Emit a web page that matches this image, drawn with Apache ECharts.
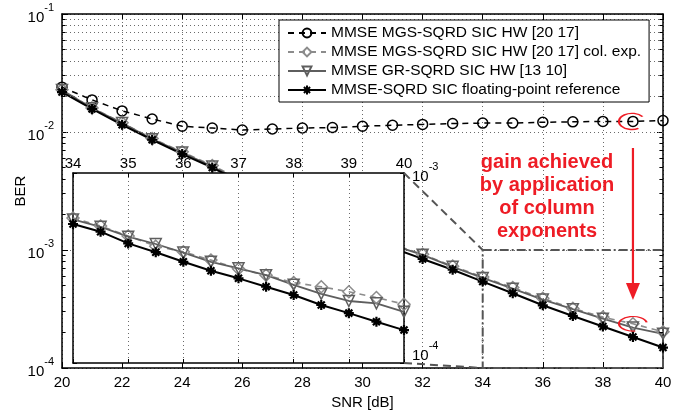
<!DOCTYPE html>
<html>
<head>
<meta charset="utf-8">
<title>BER vs SNR</title>
<script src="https://cdn.jsdelivr.net/npm/echarts@6/dist/echarts.min.js"></script>
<style>
  html, body { margin: 0; padding: 0; background: #fff; }
  #chart { width: 692px; height: 418px; }
</style>
</head>
<body>
<div id="chart"></div>
<script>
// main plot, SNR in dB
const snr = [20, 21, 22, 23, 24, 25, 26, 27, 28, 29, 30, 31, 32, 33, 34, 35, 36, 37, 38, 39, 40];
const berMgs = [0.0240, 0.0187, 0.0151, 0.0129, 0.0112, 0.0108, 0.0104, 0.0106, 0.0108, 0.0109, 0.0112,
  0.0114, 0.0116, 0.0118, 0.0119, 0.0119, 0.0121, 0.0122, 0.0123, 0.0123, 0.0125];
const berMgsColExp = [0.0228, 0.0160, 0.0120, 0.0088, 0.0068, 0.0052, 0.0039, 0.0030, 0.0023, 0.0018, 0.0014,
  0.00112, 0.00092, 0.00073, 0.00059, 0.00048, 0.00039, 0.00032, 0.00027, 0.000237, 0.000203];
const berGr = [0.0227, 0.0159, 0.0119, 0.0087, 0.0067, 0.0051, 0.0038, 0.0029, 0.0022, 0.0017, 0.00135,
  0.0011, 0.00091, 0.00072, 0.00058, 0.00047, 0.00038, 0.000315, 0.000262, 0.00022, 0.000195];
const berFloat = [0.0218, 0.0157, 0.0115, 0.0086, 0.0065, 0.0050, 0.0037, 0.0028, 0.0021, 0.0016, 0.00128,
  0.00104, 0.00084, 0.00068, 0.00054, 0.00043, 0.00034, 0.000276, 0.000225, 0.000183, 0.000149];

// zoomed inset, 34..40 dB
const snrZoom = [34, 34.5, 35, 35.5, 36, 36.5, 37, 37.5, 38, 38.5, 39, 39.5, 40];
const zoomColExp = [5.80e-4, 5.26e-4, 4.66e-4, 4.12e-4, 3.85e-4, 3.48e-4, 3.13e-4, 2.90e-4, 2.65e-4, 2.52e-4, 2.37e-4, 2.21e-4, 2.04e-4];
const zoomGr = [5.70e-4, 5.21e-4, 4.62e-4, 4.23e-4, 3.81e-4, 3.41e-4, 3.15e-4, 2.90e-4, 2.58e-4, 2.31e-4, 2.12e-4, 2.06e-4, 1.86e-4];
const zoomFloat = [5.39e-4, 4.91e-4, 4.26e-4, 3.83e-4, 3.41e-4, 3.06e-4, 2.79e-4, 2.52e-4, 2.28e-4, 2.02e-4, 1.83e-4, 1.65e-4, 1.49e-4];

const names = [
  'MMSE MGS-SQRD SIC HW [20 17]',
  'MMSE MGS-SQRD SIC HW [20 17] col. exp.',
  'MMSE GR-SQRD SIC HW [13 10]',
  'MMSE-SQRD SIC floating-point reference'
];

// minor log grid values
const minorMain = [2e-4, 3e-4, 4e-4, 5e-4, 6e-4, 7e-4, 8e-4, 9e-4, 2e-3, 3e-3, 4e-3, 5e-3, 6e-3, 7e-3, 8e-3, 9e-3,
  2e-2, 3e-2, 4e-2, 5e-2, 6e-2, 7e-2, 8e-2, 9e-2];
const minorZoom = [2e-4, 3e-4, 4e-4, 5e-4, 6e-4, 7e-4, 8e-4, 9e-4];

const annotation = 'gain achieved\nby application\nof column\nexponents';

const fontFamily = '"Liberation Sans", Arial, Helvetica, sans-serif';
const red = '#ee1c25';
const gridColor = '#6a6a6a';
const star = 'path://M5,0L5,10M0,5L10,5M1.5,1.5L8.5,8.5M1.5,8.5L8.5,1.5';

const pairs = (xs, ys) => xs.map((x, i) => [x, ys[i]]);
const expLabel = v => '{b|10}{s|' + Math.round(Math.log10(v)) + '}';
const rich = {
  b: { fontSize: 15, lineHeight: 23, color: '#000', fontFamily, verticalAlign: 'bottom' },
  s: { fontSize: 11, lineHeight: 12, color: '#000', fontFamily, verticalAlign: 'top' }
};

const styles = [
  { color: '#000', width: 1.5, type: [6, 5], symbol: 'circle', size: 10, rotate: 0 },
  { color: '#8c8c8c', width: 1.6, type: [6, 5], symbol: 'diamond', size: 12, rotate: 0 },
  { color: '#5e5e5e', width: 1.8, type: 'solid', symbol: 'triangle', size: 11, rotate: 180 },
  { color: '#000', width: 2, type: 'solid', symbol: star, size: 10, rotate: 0 }
];

function curve(i, data, xi, yi, z) {
  const s = styles[i];
  return {
    name: names[i], type: 'line', xAxisIndex: xi, yAxisIndex: yi, z: z,
    data: data, symbol: s.symbol, symbolSize: s.size, symbolRotate: s.rotate,
    showSymbol: true, showAllSymbol: true, clip: false, silent: true,
    lineStyle: { color: s.color, width: s.width, type: s.type },
    itemStyle: {
      color: i === 3 ? '#000' : 'rgba(255,255,255,0)',
      borderColor: s.color, borderWidth: i === 3 ? 2.2 : 1.5
    },
    emphasis: { disabled: true }
  };
}

// short inward tick marks for minor log values
function minorTicks(values, x0, x1, dx) {
  const out = [];
  values.forEach(v => {
    out.push([{ coord: [x0, v] }, { coord: [x0 + dx, v] }]);
    out.push([{ coord: [x1 - dx, v] }, { coord: [x1, v] }]);
  });
  return out;
}

const axisLine = { show: true, lineStyle: { color: '#000', width: 1.5 } };
const dotLine = { show: true, lineStyle: { color: gridColor, type: [1, 3], width: 1 } };

const chart = echarts.init(document.getElementById('chart'));

const option = {
  animation: false,
  backgroundColor: '#fff',
  textStyle: { fontFamily },
  grid: [
    { left: 62, top: 14, right: 29, bottom: 50, outerBoundsMode: 'none', containLabel: false },
    { left: 73, top: 173, width: 331, height: 190, outerBoundsMode: 'none', containLabel: false }
  ],
  legend: {
    data: names, orient: 'vertical', left: 279, top: 20,
    itemWidth: 38, itemHeight: 11, itemGap: 3,
    padding: [5, 8, 4, 8],
    borderColor: '#000', borderWidth: 1, backgroundColor: '#fff',
    textStyle: { fontSize: 15.5, color: '#000', fontFamily },
    selectedMode: false, z: 10
  },
  xAxis: [
    {
      gridIndex: 0, type: 'value', min: 20, max: 40, interval: 2, position: 'bottom',
      name: 'SNR [dB]', nameLocation: 'middle', nameGap: 25,
      nameTextStyle: { fontSize: 15, color: '#000' },
      axisLine, axisTick: { inside: true, length: 6, lineStyle: { color: '#000' } },
      axisLabel: { fontSize: 15, color: '#000', margin: 7 },
      splitLine: dotLine
    },
    {
      gridIndex: 0, type: 'value', min: 20, max: 40, interval: 2, position: 'top',
      axisLine, axisTick: { inside: true, length: 6, lineStyle: { color: '#000' } },
      axisLabel: { show: false }, splitLine: { show: false }
    },
    {
      gridIndex: 1, type: 'value', min: 34, max: 40, interval: 1, position: 'top', z: 6,
      axisLine, axisTick: { inside: true, length: 4, lineStyle: { color: '#000' } },
      axisLabel: { fontSize: 15, color: '#000', margin: 2 },
      splitLine: dotLine
    },
    {
      gridIndex: 1, type: 'value', min: 34, max: 40, interval: 1, position: 'bottom', z: 6,
      axisLine, axisTick: { inside: true, length: 4, lineStyle: { color: '#000' } },
      axisLabel: { show: false }, splitLine: { show: false }
    }
  ],
  yAxis: [
    {
      gridIndex: 0, type: 'log', logBase: 10, min: 1e-4, max: 1e-1, position: 'left',
      name: 'BER', nameLocation: 'middle', nameGap: 34, nameRotate: 90, nameMoveOverlap: false,
      nameTextStyle: { fontSize: 15, color: '#000' },
      axisLine, axisTick: { inside: true, length: 6, lineStyle: { color: '#000' } },
      axisLabel: { formatter: expLabel, rich, margin: 8 },
      splitLine: dotLine
    },
    {
      gridIndex: 0, type: 'log', logBase: 10, min: 1e-4, max: 1e-1, position: 'right',
      axisLine, axisTick: { inside: true, length: 6, lineStyle: { color: '#000' } },
      axisLabel: { show: false }, splitLine: { show: false }
    },
    {
      gridIndex: 1, type: 'log', logBase: 10, min: 1e-4, max: 1e-3, position: 'right', z: 6,
      axisLine, axisTick: { inside: true, length: 4, lineStyle: { color: '#000' } },
      axisLabel: { formatter: expLabel, rich, margin: 8, verticalAlignMinLabel: 'bottom' },
      splitLine: { show: false }
    },
    {
      gridIndex: 1, type: 'log', logBase: 10, min: 1e-4, max: 1e-3, position: 'left', z: 6,
      axisLine, axisTick: { inside: true, length: 4, lineStyle: { color: '#000' } },
      axisLabel: { show: false }, splitLine: { show: false }
    }
  ],
  series: [
    // main plot decorations: minor grid, minor ticks, zoom rectangle
    {
      type: 'line', xAxisIndex: 0, yAxisIndex: 0, data: [], z: 1, silent: true,
      markLine: {
        silent: true, symbol: 'none', label: { show: false },
        lineStyle: { color: gridColor, type: [1, 3], width: 1 },
        data: minorMain.map(v => ({ yAxis: v }))
      },
      markArea: {
        silent: true,
        itemStyle: { color: 'rgba(0,0,0,0)', borderColor: '#555', borderWidth: 2, borderType: [9, 3, 2, 3] },
        data: [[{ coord: [34, 1e-3] }, { coord: [40, 1e-4] }]]
      }
    },
    {
      type: 'line', xAxisIndex: 0, yAxisIndex: 0, data: [], z: 1, silent: true,
      markLine: {
        silent: true, symbol: 'none', label: { show: false },
        lineStyle: { color: '#000', type: 'solid', width: 1 },
        data: minorTicks(minorMain, 20, 40, 0.12)
      }
    },
    curve(0, pairs(snr, berMgs), 0, 0, 2),
    curve(1, pairs(snr, berMgsColExp), 0, 0, 2),
    curve(2, pairs(snr, berGr), 0, 0, 2),
    curve(3, pairs(snr, berFloat), 0, 0, 2),
    // inset decorations
    {
      type: 'line', xAxisIndex: 2, yAxisIndex: 2, data: [], z: 7, silent: true,
      markLine: {
        silent: true, symbol: 'none', label: { show: false },
        lineStyle: { color: gridColor, type: [1, 3], width: 1 },
        data: minorZoom.map(v => ({ yAxis: v }))
      }
    },
    {
      type: 'line', xAxisIndex: 2, yAxisIndex: 2, data: [], z: 7, silent: true,
      markLine: {
        silent: true, symbol: 'none', label: { show: false },
        lineStyle: { color: '#000', type: 'solid', width: 1 },
        data: minorTicks(minorZoom, 34, 40, 0.07)
      }
    },
    curve(1, pairs(snrZoom, zoomColExp), 2, 2, 8),
    curve(2, pairs(snrZoom, zoomGr), 2, 2, 8),
    curve(3, pairs(snrZoom, zoomFloat), 2, 2, 8)
  ]
};

chart.setOption(option);

// overlays placed from the library's own coordinate conversion
const px = (g, pt) => chart.convertToPixel({ gridIndex: g }, pt);
const insetTL = px(1, [34, 1e-3]);
const insetBR = px(1, [40, 1e-4]);
const rectTL = px(0, [34, 1e-3]);
const rectBL = px(0, [34, 1e-4]);
const ringTop = px(0, [39, berMgs[19]]);
const ringBottom = px(0, [39, berMgsColExp[19]]);
const arrowX = px(0, [39, 1e-2])[0];

const connector = (a, b) => ({
  type: 'line', z: 9, silent: true,
  shape: { x1: a[0], y1: a[1], x2: b[0], y2: b[1] },
  style: { stroke: '#555', lineWidth: 2, lineDash: [8, 5] }
});

chart.setOption({
  graphic: [
    {
      type: 'rect', z: 5, silent: true,
      shape: { x: insetTL[0], y: insetTL[1], width: insetBR[0] - insetTL[0], height: insetBR[1] - insetTL[1] },
      style: { fill: '#fff' }
    },
    connector([insetBR[0], insetTL[1]], rectTL),
    connector(insetBR, rectBL),
    {
      type: 'text', z: 9, silent: true, x: 547, y: 151,
      style: {
        text: annotation, fill: red, font: 'bold 20px ' + fontFamily,
        align: 'center', textAlign: 'center', verticalAlign: 'top', lineHeight: 23
      }
    },
    {
      type: 'line', z: 9, silent: true,
      shape: { x1: arrowX, y1: 148, x2: arrowX, y2: 285 },
      style: { stroke: red, lineWidth: 2.2 }
    },
    {
      type: 'polygon', z: 9, silent: true,
      shape: { points: [[arrowX - 7, 283], [arrowX + 7, 283], [arrowX, 300]] },
      style: { fill: red }
    },
    {
      type: 'arc', z: 9, silent: true, x: ringTop[0] - 1, y: ringTop[1], scaleY: 0.62,
      shape: { cx: 0, cy: 0, r: 13, startAngle: -0.62, endAngle: 1.05, clockwise: false },
      style: { stroke: red, fill: 'none', lineWidth: 2.2, strokeNoScale: true }
    },
    {
      type: 'arc', z: 9, silent: true, x: ringBottom[0], y: ringBottom[1], scaleY: 0.52,
      shape: { cx: 0, cy: 0, r: 14, startAngle: -0.2, endAngle: 1.4, clockwise: false },
      style: { stroke: red, fill: 'none', lineWidth: 2.2, strokeNoScale: true }
    }
  ]
});
</script>
</body>
</html>
